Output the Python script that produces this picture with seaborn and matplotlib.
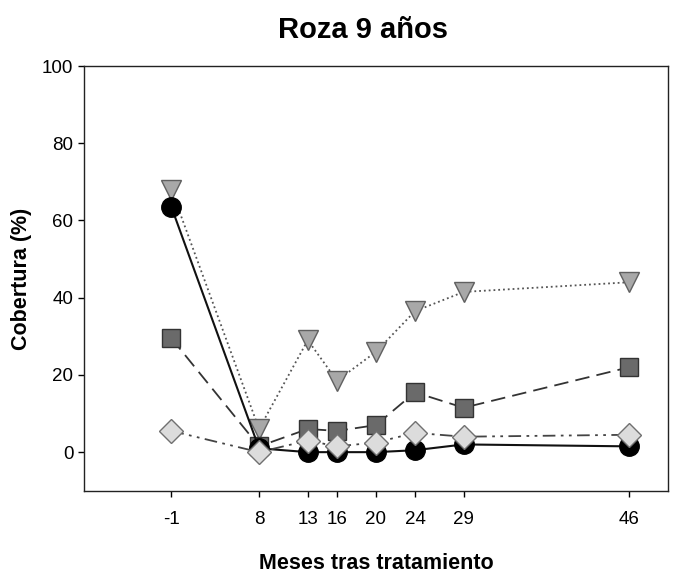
import matplotlib
matplotlib.use("Agg")
import matplotlib.pyplot as plt
import seaborn as sns
import pandas as pd

meses = [-1, 8, 13, 16, 20, 24, 29, 46]
serie_circulo = [63.5, 1.0, 0.0, 0.0, 0.0, 0.5, 2.0, 1.5]
serie_cuadrado = [29.5, 1.5, 6.0, 5.5, 7.0, 15.5, 11.5, 22.0]
serie_triangulo = [68.0, 6.0, 29.0, 18.5, 26.0, 36.5, 41.5, 44.0]
serie_rombo = [5.5, 0.0, 3.0, 1.5, 2.5, 5.0, 4.0, 4.5]
yticks = [0, 20, 40, 60, 80, 100]

sns.set_style("ticks")
plt.rcParams['font.family'] = ['Liberation Sans', 'DejaVu Sans']
for k in ['text.color', 'axes.labelcolor', 'xtick.color', 'ytick.color', 'axes.edgecolor']:
    plt.rcParams[k] = 'black'

fig = plt.figure(figsize=(6.75, 5.74), dpi=100)
ax = fig.add_axes([0.124, 0.145, 0.866, 0.740])

styles = [
    (serie_triangulo, dict(marker='v', color='#555555', ls=':', lw=1.3, ms=15,
                           mfc='#a8a8a8', mec='#606060', mew=1.0, zorder=2)),
    (serie_cuadrado, dict(marker='s', color='#333333', ls=(0, (8, 4)), lw=1.3, ms=12.5,
                          mfc='#6a6a6a', mec='#333333', mew=1.0, zorder=3)),
    (serie_circulo, dict(marker='o', color='#111111', ls='-', lw=1.5, ms=14,
                         mfc='#000000', mec='#000000', mew=1.0, zorder=4)),
    (serie_rombo, dict(marker='D', color='#444444', ls=(0, (7, 3, 1.5, 3, 1.5, 3)), lw=1.3, ms=12,
                       mfc='#dcdcdc', mec='#707070', mew=1.0, zorder=5)),
]

for vals, kw in styles:
    df = pd.DataFrame({'x': meses, 'y': vals})
    z = kw.pop('zorder')
    ls = kw.pop('ls')
    lines_before = len(ax.lines)
    sns.lineplot(data=df, x='x', y='y', ax=ax, linestyle=ls, **kw)
    for ln in ax.lines[lines_before:]:
        ln.set_zorder(z)
        ln.set_linestyle(ls)

ax.set_xlim(-10, 50)
ax.set_ylim(-10, 100)
ax.set_xticks(meses)
ax.set_xticklabels([str(m) for m in meses])
ax.set_yticks(yticks)
ax.tick_params(axis='both', direction='out', length=4.5, width=1, labelsize=13.5, colors='black')
ax.tick_params(axis='x', pad=10)
ax.tick_params(axis='y', pad=3)
for s in ax.spines.values():
    s.set_visible(True)
    s.set_linewidth(1.0)
    s.set_color('#222222')

ax.set_xlabel('Meses tras tratamiento', fontsize=15.5, fontweight='bold', labelpad=18, color='black')
ax.set_ylabel('Cobertura (%)', fontsize=15.5, fontweight='bold', labelpad=7, color='black')
ax.set_title('Roza 9 años', fontsize=21, fontweight='bold', pad=20, color='black', x=0.478)

fig.savefig('out.png', dpi=100)
